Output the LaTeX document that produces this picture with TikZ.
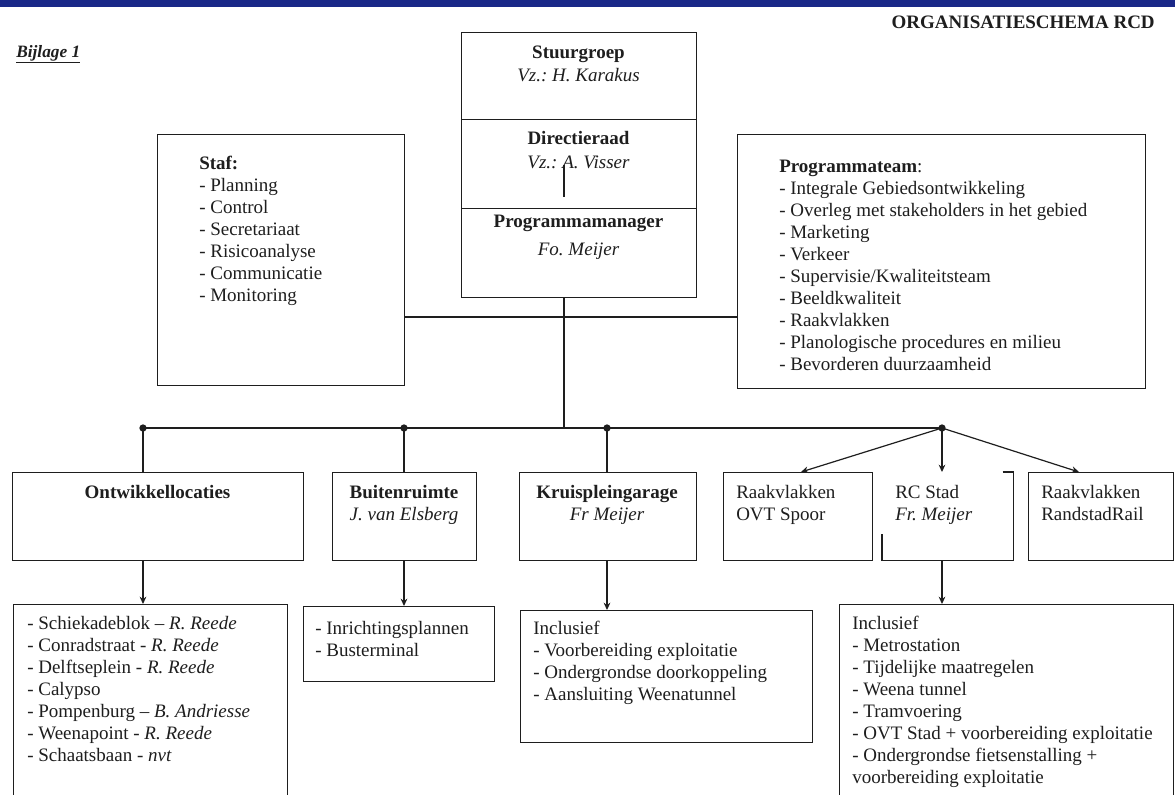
\documentclass[tikz,border=0pt]{standalone}
\usepackage{fontspec}
\setmainfont{Liberation Serif}
\usetikzlibrary{arrows.meta,calc}
\definecolor{barblue}{RGB}{26,40,136}
\definecolor{ink}{RGB}{30,30,30}
\frenchspacing
\newcommand\bodyfont{\fontsize{14.25}{16.5}\selectfont}
% box at top-left (x,y) in px with width and height in px
\newcommand\boxat[6][box]{\node[#1, minimum width=#5*0.75pt, minimum height=#6*0.75pt] (#2) at (#3,#4) {};}

\begin{document}
\begin{tikzpicture}[x=0.75pt,y=-0.75pt,
  box/.style={draw=ink, line width=1.1pt, inner sep=0pt, anchor=north west},
  hidden/.style={inner sep=0pt, anchor=north west},
  ctr/.style={inner sep=0pt, anchor=base, font=\bodyfont, text=ink},
  lft/.style={inner sep=0pt, anchor=base west, font=\bodyfont, text=ink},
  list/.style={inner sep=0pt, anchor=north west, align=left, font=\bodyfont, text=ink},
  conn/.style={draw=ink, line width=0.9pt},
  arr/.style={conn, -{Stealth[length=5.5pt,width=5pt]}},
  dot/.style={circle, fill=ink, inner sep=0pt, minimum size=5.5pt}]
\clip (0,0) rectangle (1175,794);
\fill[white] (0,0) rectangle (1175,794);
\fill[barblue] (0,0) rectangle (1175,7);

% headings
\node[inner sep=0pt, anchor=base west, font=\fontsize{13}{15}\selectfont\bfseries\itshape, text=ink] (bijlage) at (16,57) {\underline{Bijlage 1}};
\node[inner sep=0pt, anchor=base east, font=\bodyfont\bfseries, text=ink] (titel) at (1155,28) {ORGANISATIESCHEMA RCD};

% central column
\boxat{stuur}{461}{32}{235}{87}
\boxat{dir}{461}{119}{235}{89}
\boxat{pm}{461}{208}{235}{89}
\node[ctr, font=\bodyfont\bfseries] (stuur-t) at (578.5,58) {Stuurgroep};
\node[ctr, font=\bodyfont\itshape] (stuur-n) at (578.5,81) {Vz.: H. Karakus};
\node[ctr, font=\bodyfont\bfseries] (dir-t) at (578.5,144) {Directieraad};
\node[ctr, font=\bodyfont\itshape] (dir-n) at (578.5,168) {Vz.: A. Visser};
\node[ctr, font=\bodyfont\bfseries] (pm-t) at (578.5,227) {Programmamanager};
\node[ctr, font=\bodyfont\itshape] (pm-n) at (578.5,255) {Fo. Meijer};
\coordinate (dirA) at (564,165);
\coordinate (dirB) at (564,197);
\draw[conn] (dirA) -- (dirB);

% staff and programme team
\boxat{staf}{157}{134}{247}{251}
\boxat{prog}{737}{134}{408}{254}
\node[list] (staf-t) at (199,156) {\textbf{Staf:}\\
- Planning\\
- Control\\
- Secretariaat\\
- Risicoanalyse\\
- Communicatie\\
- Monitoring};
\node[list] (prog-t) at (779,160) {\textbf{Programmateam}:\\
- Integrale Gebiedsontwikkeling\\
- Overleg met stakeholders in het gebied\\
- Marketing\\
- Verkeer\\
- Supervisie/Kwaliteitsteam\\
- Beeldkwaliteit\\
- Raakvlakken\\
- Planologische procedures en milieu\\
- Bevorderen duurzaamheid};

% upper row of units
\boxat{ont}{12}{472}{291}{88}
\boxat{bui}{332}{472}{144}{88}
\boxat{kru}{519}{472}{177}{88}
\boxat{ovt}{723}{472}{149}{88}
\boxat[hidden]{rc}{882}{472}{131}{88}
\boxat{rr}{1028}{472}{145}{88}
\draw[draw=ink, line width=1.1pt] ($(rc.north east)+(-11,0)$) -- (rc.north east) -- (rc.south east) -- (rc.south west) -- ($(rc.south west)+(0,-27)$);

\node[ctr, font=\bodyfont\bfseries] (ont-t) at (157.5,498) {Ontwikkellocaties};
\node[ctr, font=\bodyfont\bfseries] (bui-t) at (404,498) {Buitenruimte};
\node[ctr, font=\bodyfont\itshape] (bui-n) at (404,520) {J. van Elsberg};
\node[ctr, font=\bodyfont\bfseries] (kru-t) at (607,498) {Kruispleingarage};
\node[ctr, font=\bodyfont\itshape] (kru-n) at (607,520) {Fr Meijer};
\node[lft] (ovt-t) at (736,498) {Raakvlakken};
\node[lft] (ovt-n) at (736,520) {OVT Spoor};
\node[lft] (rc-t) at (895,498) {RC Stad};
\node[lft, font=\bodyfont\itshape] (rc-n) at (895,520) {Fr. Meijer};
\node[lft] (rr-t) at (1041,498) {Raakvlakken};
\node[lft] (rr-n) at (1041,520) {RandstadRail};

% lower row of detail boxes
\boxat{ontl}{13}{604}{274}{200}
\boxat{buil}{303}{606}{191}{75}
\boxat{krul}{520}{610}{292}{132}
\boxat{rcl}{839}{604}{334}{200}
\node[list] (ontl-t) at (27,616) {- Schiekadeblok -- \textit{R. Reede}\\
- Conradstraat - \textit{R. Reede}\\
- Delftseplein - \textit{R. Reede}\\
- Calypso\\
- Pompenburg -- \textit{B. Andriesse}\\
- Weenapoint - \textit{R. Reede}\\
- Schaatsbaan - \textit{nvt}};
\node[list] (buil-t) at (315,621) {- Inrichtingsplannen\\
- Busterminal};
\node[list] (krul-t) at (533,621) {Inclusief\\
- Voorbereiding exploitatie\\
- Ondergrondse doorkoppeling\\
- Aansluiting Weenatunnel};
\node[list] (rcl-t) at (852,616) {Inclusief\\
- Metrostation\\
- Tijdelijke maatregelen\\
- Weena tunnel\\
- Tramvoering\\
- OVT Stad + voorbereiding exploitatie\\
- Ondergrondse fietsenstalling +\\
voorbereiding exploitatie};

% connectors
\coordinate (pmout) at (564,297);
\coordinate (busj) at (564,428);
\draw[conn] (pmout) -- (busj);
\draw[conn] ($(staf.north east)+(0,183)$) -- ($(prog.north west)+(0,183)$);

\node[dot] (d1) at (143,428) {};
\node[dot] (d2) at (404,428) {};
\node[dot] (d3) at (607,428) {};
\node[dot] (d4) at (942,428) {};
\draw[conn] (d1.center) -- (d4.center);

\draw[conn] (d1.center) -- (ont.north -| d1);
\draw[conn] (d2.center) -- (bui.north -| d2);
\draw[conn] (d3.center) -- (kru.north -| d3);
\draw[arr] (d4.center) -- ($(ovt.north west)+(78,0)$);
\draw[arr] (d4.center) -- (rc.north -| d4);
\draw[arr] (d4.center) -- ($(rr.north west)+(51,0)$);

\draw[arr] (ont.south -| d1) -- (ontl.north -| d1);
\draw[arr] (bui.south -| d2) -- (buil.north -| d2);
\draw[arr] (kru.south -| d3) -- (krul.north -| d3);
\draw[arr] (rc.south -| d4) -- (rcl.north -| d4);
\end{tikzpicture}
\end{document}
